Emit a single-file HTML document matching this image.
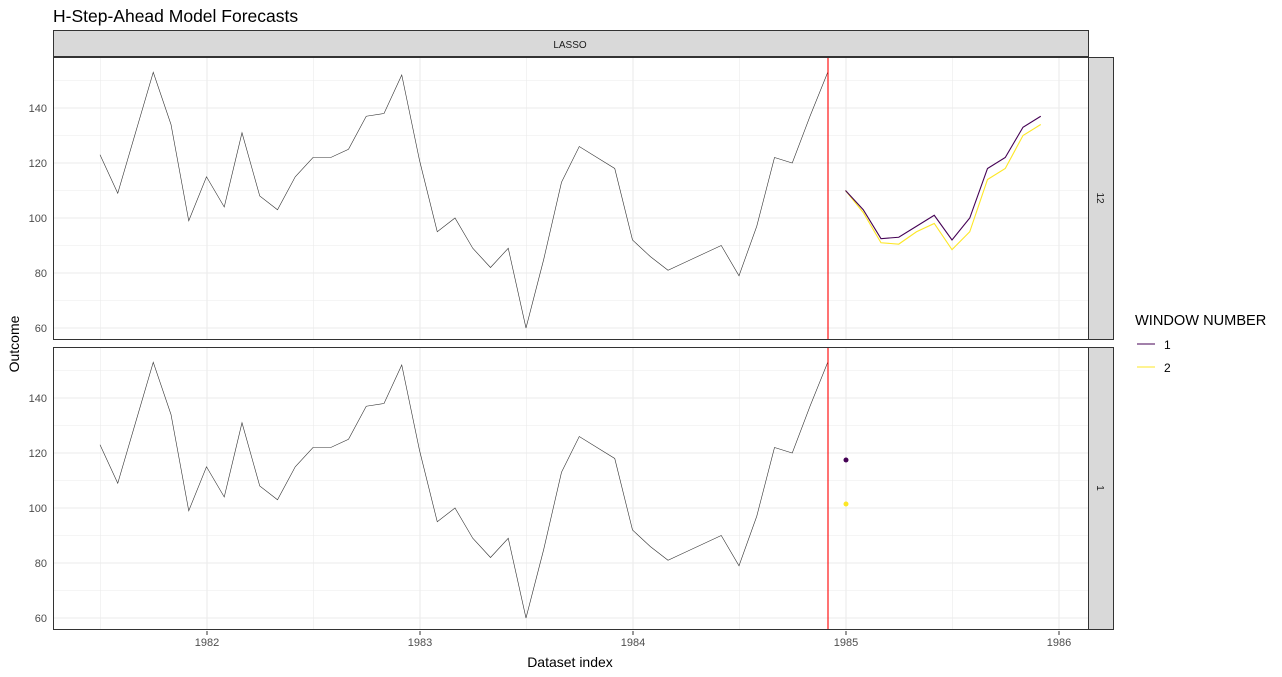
<!DOCTYPE html>
<html><head><style>body{margin:0;background:#fff}svg{display:block;font-family:"Liberation Sans",sans-serif}</style></head><body>
<svg width="1282" height="677" xmlns="http://www.w3.org/2000/svg">
<rect width="1282" height="677" fill="#fff"/>
<text x="53" y="22" font-size="17.5" fill="#000">H-Step-Ahead Model Forecasts</text>
<rect x="53.5" y="30.5" width="1035" height="26" fill="#d9d9d9" stroke="#333" stroke-width="1"/>
<text x="570" y="48" font-size="10" text-anchor="middle" fill="#1a1a1a">LASSO</text>
<defs>
<g id="grid">
<g stroke="#ebebeb" stroke-width="0.6">
<line x1="53" x2="1088" y1="300.5" y2="300.5"/><line x1="53" x2="1088" y1="245.5" y2="245.5"/><line x1="53" x2="1088" y1="190.5" y2="190.5"/><line x1="53" x2="1088" y1="135.5" y2="135.5"/><line x1="53" x2="1088" y1="80.5" y2="80.5"/>
<line y1="57" y2="340" x1="100.5" x2="100.5"/><line y1="57" y2="340" x1="313.5" x2="313.5"/><line y1="57" y2="340" x1="526.5" x2="526.5"/><line y1="57" y2="340" x1="739.5" x2="739.5"/><line y1="57" y2="340" x1="952.5" x2="952.5"/>
</g>
<g stroke="#ebebeb" stroke-width="1.1">
<line x1="53" x2="1088" y1="328" y2="328"/><line x1="53" x2="1088" y1="273" y2="273"/><line x1="53" x2="1088" y1="218" y2="218"/><line x1="53" x2="1088" y1="163" y2="163"/><line x1="53" x2="1088" y1="108" y2="108"/>
<line y1="57" y2="340" x1="207" x2="207"/><line y1="57" y2="340" x1="420" x2="420"/><line y1="57" y2="340" x1="633" x2="633"/><line y1="57" y2="340" x1="846" x2="846"/><line y1="57" y2="340" x1="1059" x2="1059"/>
</g>
<g font-size="11" fill="#4d4d4d" text-anchor="end">
<text x="47" y="332">60</text><text x="47" y="277">80</text><text x="47" y="222">100</text><text x="47" y="167">120</text><text x="47" y="112">140</text>
</g>
<polyline fill="none" stroke="#333" stroke-width="0.6" vector-effect="non-scaling-stroke" transform="matrix(17.75,0,0,-2.75,100,493)" points="0,123 1,109 2,131 3,153 4,134 5,99 6,115 7,104 8,131 9,108 10,103 11,115 12,122 13,122 14,125 15,137 16,138 17,152 18,121 19,95 20,100 21,89 22,82 23,89 24,60 25,85 26,113 27,126 28,122 29,118 30,92 31,86 32,81 33,84 34,87 35,90 36,79 37,97 38,122 39,120 40,137 41,153"/>
<line x1="828" x2="828" y1="57" y2="340" stroke="#ff0000" stroke-width="1.1"/>
<rect x="53.5" y="57.5" width="1035" height="282" fill="none" stroke="#333" stroke-width="1"/>
</g>
</defs>
<use href="#grid"/>
<use href="#grid" transform="translate(0,290)"/>
<polyline fill="none" stroke="#FDE725" stroke-width="1.1" vector-effect="non-scaling-stroke" transform="matrix(17.75,0,0,-2.75,100,493)" points="42,110 43,102 44,91 45,90.5 46,95 47,98 48,88.5 49,95 50,114 51,118 52,130 53,134"/>
<polyline fill="none" stroke="#440154" stroke-width="1.1" vector-effect="non-scaling-stroke" transform="matrix(17.75,0,0,-2.75,100,493)" points="42,110 43,103 44,92.5 45,93 46,97 47,101 48,92 49,100 50,118 51,122 52,133 53,137"/>
<circle cx="846" cy="460" r="2.5" fill="#440154"/>
<circle cx="846" cy="504" r="2.5" fill="#FDE725"/>
<rect x="1088.5" y="57.5" width="25" height="282" fill="#d9d9d9" stroke="#333"/>
<rect x="1088.5" y="347.5" width="25" height="282" fill="#d9d9d9" stroke="#333"/>
<text transform="translate(1097,198) rotate(90)" font-size="10" text-anchor="middle" fill="#1a1a1a">12</text>
<text transform="translate(1097,488) rotate(90)" font-size="10" text-anchor="middle" fill="#1a1a1a">1</text>
<g stroke="#333"><line x1="207" x2="207" y1="631" y2="635"/><line x1="420" x2="420" y1="631" y2="635"/><line x1="633" x2="633" y1="631" y2="635"/><line x1="846" x2="846" y1="631" y2="635"/><line x1="1059" x2="1059" y1="631" y2="635"/></g>
<g font-size="11" fill="#4d4d4d" text-anchor="middle">
<text x="207" y="646">1982</text><text x="420" y="646">1983</text><text x="633" y="646">1984</text><text x="846" y="646">1985</text><text x="1059" y="646">1986</text>
</g>
<text x="570" y="667" font-size="14" text-anchor="middle">Dataset index</text>
<text transform="translate(19,344) rotate(-90)" font-size="14" text-anchor="middle">Outcome</text>
<text x="1135" y="325" font-size="14.6">WINDOW NUMBER</text>
<line x1="1137" x2="1155" y1="344" y2="344" stroke="#440154" stroke-width="1.1"/>
<text x="1164" y="349" font-size="12">1</text>
<line x1="1137" x2="1155" y1="367" y2="367" stroke="#FDE725" stroke-width="1.1"/>
<text x="1164" y="372" font-size="12">2</text>
</svg>
</body></html>
